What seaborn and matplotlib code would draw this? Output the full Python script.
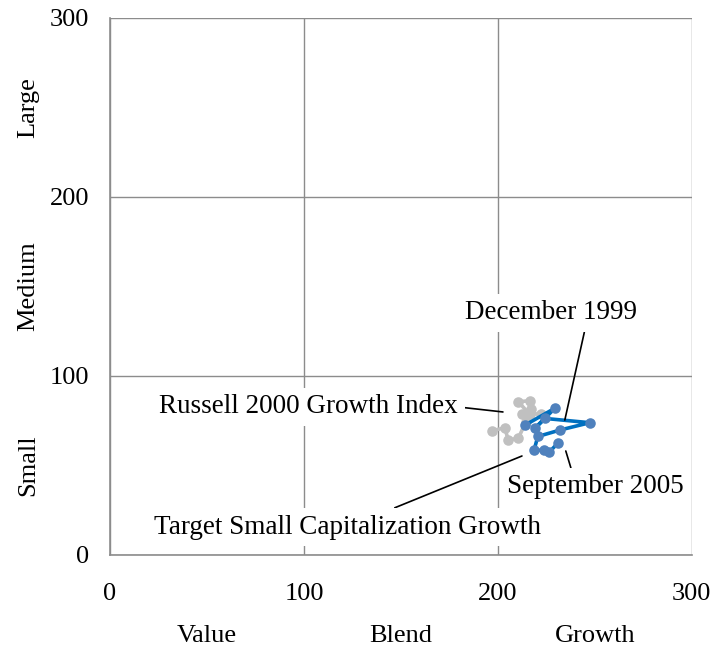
import numpy as np
import pandas as pd
import matplotlib
matplotlib.use("Agg")
import matplotlib.pyplot as plt
import seaborn as sns

# style box coordinates (value/blend/growth vs small/medium/large)
russell_x = [222.0, 216.5, 210.5, 216.5, 217.0, 212.5, 214.5, 210.5, 205.3, 203.6, 196.8]
russell_y = [79.0, 78.5, 85.6, 86.2, 81.5, 78.5, 74.5, 65.2, 64.2, 71.1, 69.3]

target_x = [213.9, 229.4, 219.1, 224.2, 247.4, 232.0, 220.6, 218.6, 223.7, 226.5, 231.0]
target_y = [72.5, 82.0, 70.8, 76.3, 73.9, 69.8, 66.2, 58.5, 58.5, 57.5, 62.6]

ticks = [0, 100, 200, 300]
x_styles = ["Value", "Blend", "Growth"]
y_sizes = ["Small", "Medium", "Large"]
style_centers = [50, 150, 250]

russell = pd.DataFrame({"x": russell_x, "y": russell_y})
target = pd.DataFrame({"x": target_x, "y": target_y})

sns.set_style("white")
plt.rcParams["font.family"] = ["Liberation Serif", "DejaVu Serif"]
plt.rcParams["text.color"] = "black"

fig = plt.figure(figsize=(7.14, 6.54), dpi=100)
ax = fig.add_axes([0.154, 0.1514, 0.815, 0.8211])

grid_col = "#8c8c8c"
sns.lineplot(data=russell, x="x", y="y", sort=False, estimator=None, ax=ax,
             color="#c0c0c0", linewidth=2.6, marker="o", markersize=7.6,
             markeredgewidth=0, markerfacecolor="#c0c0c0", zorder=3)
sns.lineplot(data=target, x="x", y="y", sort=False, estimator=None, ax=ax,
             color="#0070c0", linewidth=2.6, marker="o", markersize=7.6,
             markeredgewidth=0, markerfacecolor="#4f81bd", zorder=4)

ax.set_xlim(0, 300)
ax.set_ylim(0, 300)
ax.set_xticks(ticks)
ax.set_yticks(ticks)
ax.grid(True, color=grid_col, lw=1)
ax.set_axisbelow(True)
for s in ["top", "right"]:
    ax.spines[s].set_visible(False)
for s in ["left", "bottom"]:
    ax.spines[s].set_color(grid_col)
    ax.spines[s].set_linewidth(1.2)
ax.tick_params(axis="both", direction="out", length=6, color=grid_col,
               labelcolor="black", labelsize=19, width=1)
ax.tick_params(axis="x", pad=14.5)
ax.tick_params(axis="y", pad=9)
ax.set_xlabel("")
ax.set_ylabel("")

for c, lab in zip(style_centers, x_styles):
    ax.text(c, -0.15, lab, transform=ax.get_xaxis_transform(),
            ha="center", va="center", fontsize=19)
for c, lab in zip(style_centers, y_sizes):
    ax.text(-0.141, c, lab, transform=ax.get_yaxis_transform(),
            ha="center", va="center", rotation=90, fontsize=19)

box = dict(boxstyle="square,pad=0.25", fc="white", ec="none")
fs = 19.5


def leader(rel):
    return dict(arrowstyle="-", color="black", lw=1.2, shrinkA=0, shrinkB=0,
                relpos=rel)


ax.annotate("December 1999", xy=(234.5, 75.4), xytext=(227.6, 135.2),
            ha="center", va="center", fontsize=fs, bbox=box,
            arrowprops=leader((0.7, 0.0)), zorder=6)
ax.annotate("September 2005", xy=(235.0, 58.1), xytext=(250.5, 38.0),
            ha="center", va="center", fontsize=fs, bbox=box,
            arrowprops=leader((0.37, 1.0)), zorder=6)
ax.annotate("Russell 2000 Growth Index", xy=(202.6, 79.9), xytext=(102.5, 82.7),
            ha="center", va="center", fontsize=fs, bbox=box,
            arrowprops=leader((1.0, 0.5)), zorder=6)
ax.annotate("Target Small Capitalization Growth", xy=(212.4, 55.3),
            xytext=(122.3, 15.6), ha="center", va="center", fontsize=fs,
            bbox=box, arrowprops=leader((0.58, 1.0)), zorder=6)

fig.savefig("out.png", dpi=100)
